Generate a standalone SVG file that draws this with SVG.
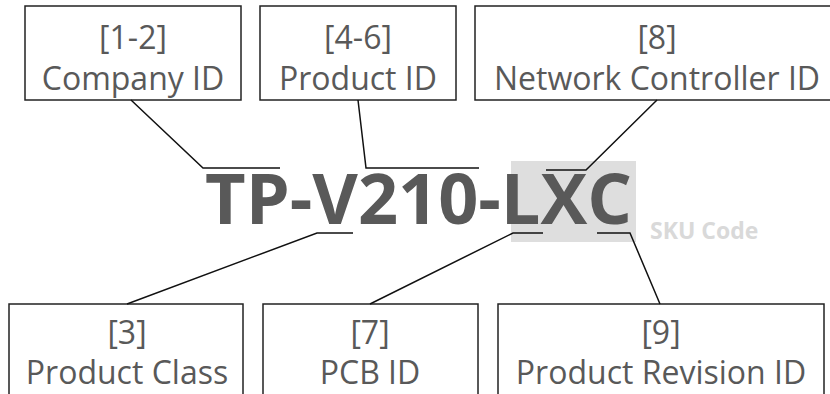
<svg xmlns="http://www.w3.org/2000/svg" width="830" height="394" viewBox="0 0 830 394">
<style>
.box{fill:#fff;stroke:#222;stroke-width:1.5}
.lbl{font-family:"Open Sans","Liberation Sans",sans-serif;font-size:32px;fill:#595959;text-anchor:middle}
.ln{fill:none;stroke:#111;stroke-width:1.5}
</style>
<rect width="830" height="394" fill="#fff"/>
<rect x="511" y="161" width="125" height="81" fill="#dedede"/>
<text x="205" y="224" font-family="'Open Sans','Liberation Sans',sans-serif" font-weight="bold" font-size="70" fill="#595959" textLength="427" lengthAdjust="spacingAndGlyphs">TP-V210-LXC</text>
<text x="650" y="239" font-family="'Open Sans','Liberation Sans',sans-serif" font-weight="bold" font-size="23" fill="#d9d9d9">SKU Code</text>
<g id="n1"><rect class="box" x="25" y="6" width="216" height="94"/><text class="lbl" x="133" y="49">[1-2]</text><text class="lbl" x="133" y="90">Company ID</text></g>
<g id="n2"><rect class="box" x="260" y="6" width="196" height="94"/><text class="lbl" x="358" y="49">[4-6]</text><text class="lbl" x="358" y="90">Product ID</text></g>
<g id="n3"><rect class="box" x="475" y="6" width="360" height="94"/><text class="lbl" x="657" y="49">[8]</text><text class="lbl" x="657" y="90">Network Controller ID</text></g>
<g id="n4"><rect class="box" x="9" y="304" width="234" height="100"/><text class="lbl" x="127" y="344">[3]</text><text class="lbl" x="127" y="384">Product Class</text></g>
<g id="n5"><rect class="box" x="263" y="304" width="215" height="100"/><text class="lbl" x="370" y="344">[7]</text><text class="lbl" x="370" y="384">PCB ID</text></g>
<g id="n6"><rect class="box" x="498" y="304" width="326" height="100"/><text class="lbl" x="661" y="344">[9]</text><text class="lbl" x="661" y="384">Product Revision ID</text></g>
<g id="connectors">
<polyline class="ln" points="131,100 203,168 280,168"/>
<polyline class="ln" points="358,100 366,168 479,168"/>
<polyline class="ln" points="657,100 586,170 546,170"/>
<polyline class="ln" points="127,304 317,233 353,233"/>
<polyline class="ln" points="370,304 513,233 543,233"/>
<polyline class="ln" points="660,304 630,233 597,233"/>
</g>
</svg>
